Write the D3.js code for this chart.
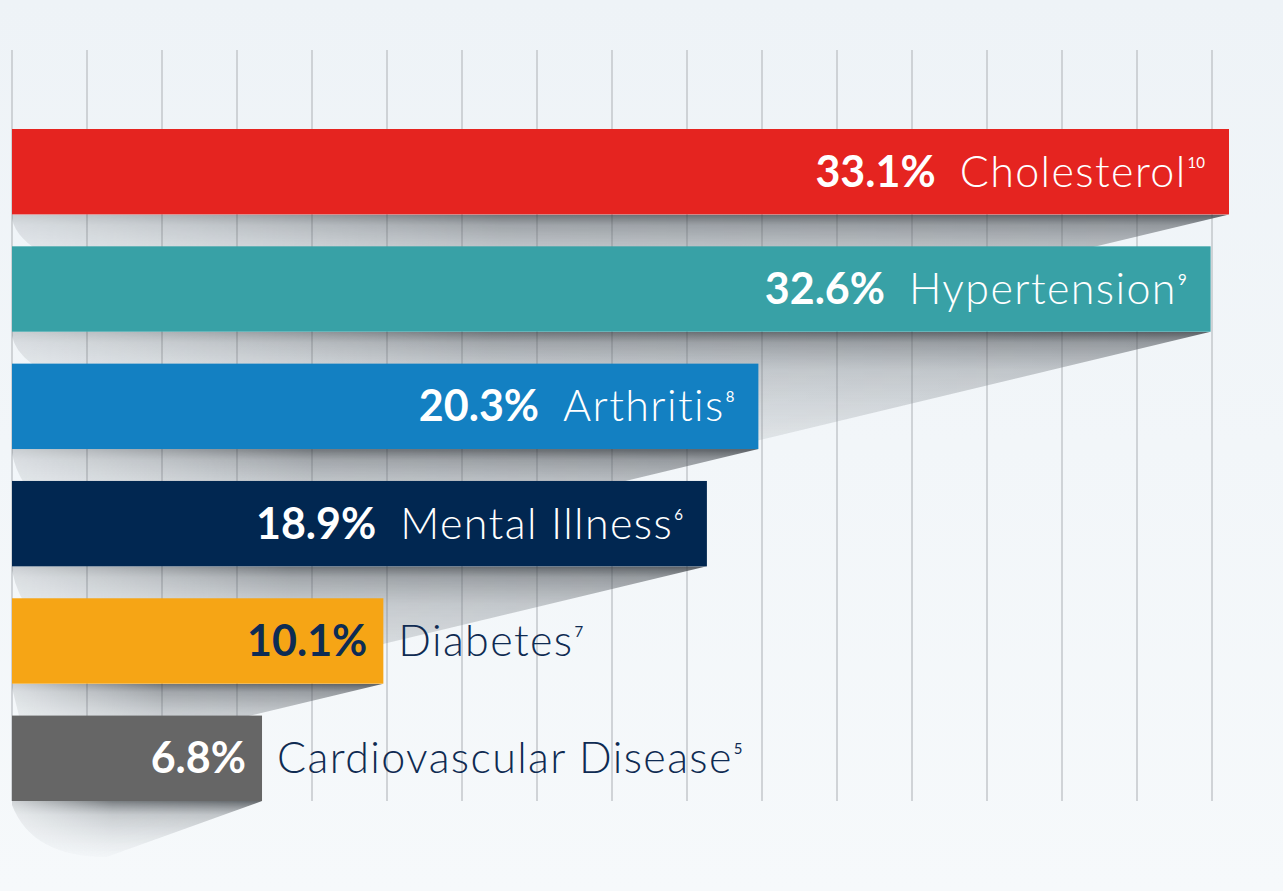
<!DOCTYPE html>
<html>
<head>
<meta charset="utf-8">
<script src="https://cdn.jsdelivr.net/npm/d3@7"></script>
<style>
  html, body { margin: 0; padding: 0; background: #f2f6f9; }
  svg { display: block; }
</style>
</head>
<body>
<div id="chart"></div>
<script>
// chart data
const categories = ['Cholesterol', 'Hypertension', 'Arthritis', 'Mental Illness', 'Diabetes', 'Cardiovascular Disease'];
const values = [33.1, 32.6, 20.3, 18.9, 10.1, 6.8];
const footnotes = ['10', '9', '8', '6', '7', '5'];
const barColors = ['#e52420', '#38a1a6', '#1380c2', '#012751', '#f6a515', '#666666'];
const valueColors = ['#ffffff', '#ffffff', '#ffffff', '#ffffff', '#0d2c54', '#ffffff'];
const labelInside = [true, true, true, true, false, false];

const width = 1283;
const height = 891;
const fontFamily = "'Lato', 'Open Sans', sans-serif";

const svg = d3.select('#chart').append('svg')
  .attr('width', width)
  .attr('height', height)
  .attr('viewBox', `0 0 ${width} ${height}`);

const defs = svg.append('defs');

let bg = defs.append('linearGradient').attr('id', 'bg-grad')
  .attr('x1', 0).attr('y1', 0).attr('x2', 0).attr('y2', 1);
bg.append('stop').attr('offset', 0).attr('stop-color', '#eef3f7');
bg.append('stop').attr('offset', 1).attr('stop-color', '#f6f9fb');

let sg = defs.append('linearGradient').attr('id', 'shadow-grad')
  .attr('x1', 0).attr('y1', 0).attr('x2', 0).attr('y2', 1);
sg.append('stop').attr('offset', 0).attr('stop-color', 'rgb(50,55,60)').attr('stop-opacity', 0.8);
sg.append('stop').attr('offset', 0.1).attr('stop-color', 'rgb(85,90,96)').attr('stop-opacity', 0.6);
sg.append('stop').attr('offset', 0.35).attr('stop-color', 'rgb(120,126,132)').attr('stop-opacity', 0.42);
sg.append('stop').attr('offset', 1).attr('stop-color', 'rgb(150,156,162)').attr('stop-opacity', 0.22);

let lg = defs.append('linearGradient').attr('id', 'last-shadow-grad')
  .attr('x1', 0).attr('y1', 0).attr('x2', 0).attr('y2', 1);
lg.append('stop').attr('offset', 0).attr('stop-color', 'rgb(50,55,60)').attr('stop-opacity', 0.75);
lg.append('stop').attr('offset', 0.25).attr('stop-color', 'rgb(110,116,122)').attr('stop-opacity', 0.4);
lg.append('stop').attr('offset', 1).attr('stop-color', 'rgb(170,176,182)').attr('stop-opacity', 0.05);

// fade the shadow out on the left side
let fg = defs.append('linearGradient').attr('id', 'fade-grad')
  .attr('x1', 0).attr('y1', 0).attr('x2', 1).attr('y2', 0);
fg.append('stop').attr('offset', 0).attr('stop-color', '#fff').attr('stop-opacity', 0.25);
fg.append('stop').attr('offset', 0.4).attr('stop-color', '#fff').attr('stop-opacity', 0.85);
fg.append('stop').attr('offset', 1).attr('stop-color', '#fff').attr('stop-opacity', 1);
defs.append('mask').attr('id', 'fade-mask')
  .attr('maskContentUnits', 'objectBoundingBox')
  .append('rect').attr('width', 1).attr('height', 1).attr('fill', 'url(#fade-grad)');

svg.append('rect')
  .attr('width', width)
  .attr('height', height)
  .attr('fill', 'url(#bg-grad)');

// scales
const x = d3.scaleLinear()
  .domain([0, 33.1])
  .range([12, 1229]);

const y = d3.scaleBand()
  .domain(categories)
  .range([129, 801])
  .paddingInner(0.272);

// vertical grid, one line every 75px from the axis origin
const gridStep = 75;
const gridLines = d3.range(0, 17).map(i => x(0) + i * gridStep);

svg.append('g').attr('class', 'grid')
  .selectAll('line')
  .data(gridLines)
  .join('line')
  .attr('x1', d => d)
  .attr('x2', d => d)
  .attr('y1', 50)
  .attr('y2', y.range()[1])
  .attr('stroke', '#c3c7cb')
  .attr('stroke-width', 1.5);

// perspective shadows under the bars
function shadowPath(i) {
  let x0 = x(0);
  let xe = x(values[i]);
  let b = y(categories[i]) + y.bandwidth();
  let isLast = i === categories.length - 1;
  let slope = isLast ? 0.36 : 0.24;
  let depth = isLast ? 56 : 110;
  let xl = xe - depth / slope;
  if (xl < x0 + 20) {
    xl = x0 + 20;
    depth = (xe - xl) * slope;
  }
  return `M${x0},${b} L${xe},${b} L${xl},${b + depth} Q${x0 + 20},${b + depth} ${x0},${b + 4} Z`;
}

svg.append('g').attr('class', 'shadows')
  .selectAll('path')
  .data(categories)
  .join('path')
  .attr('d', (d, i) => shadowPath(i))
  .attr('fill', (d, i) => i === categories.length - 1 ? 'url(#last-shadow-grad)' : 'url(#shadow-grad)')
  .attr('mask', 'url(#fade-mask)');

// bars
svg.append('g').attr('class', 'bars')
  .selectAll('rect')
  .data(categories)
  .join('rect')
  .attr('x', x(0))
  .attr('y', d => y(d))
  .attr('width', (d, i) => x(values[i]) - x(0))
  .attr('height', y.bandwidth())
  .attr('fill', (d, i) => barColors[i]);

// labels
const labels = svg.append('g').attr('class', 'labels')
  .style('font-family', fontFamily);

function addCategory(t, i, gap) {
  t.append('tspan')
    .attr('dx', gap)
    .attr('font-weight', 300)
    .attr('font-size', '43px')
    .attr('letter-spacing', '1.4px')
    .text(categories[i]);
  t.append('tspan')
    .attr('dx', 1)
    .attr('dy', -19)
    .attr('font-weight', 400)
    .attr('font-size', '15px')
    .text(footnotes[i]);
}

categories.forEach((cat, i) => {
  let end = x(values[i]);
  let baseline = y(cat) + y.bandwidth() / 2 + 15;

  if (labelInside[i]) {
    let t = labels.append('text')
      .attr('x', end - 24)
      .attr('y', baseline)
      .attr('text-anchor', 'end')
      .attr('fill', '#fff');
    t.append('tspan')
      .attr('font-weight', 700)
      .attr('font-size', '43px')
      .text(`${values[i]}%`);
    addCategory(t, i, 24);
  } else {
    labels.append('text')
      .attr('x', end - 16)
      .attr('y', baseline)
      .attr('text-anchor', 'end')
      .attr('fill', valueColors[i])
      .attr('font-weight', 700)
      .attr('font-size', '43px')
      .text(`${values[i]}%`);
    let t = labels.append('text')
      .attr('x', end + 15)
      .attr('y', baseline)
      .attr('text-anchor', 'start')
      .attr('fill', '#0f2b52');
    addCategory(t, i, 0);
  }
});
</script>
</body>
</html>
